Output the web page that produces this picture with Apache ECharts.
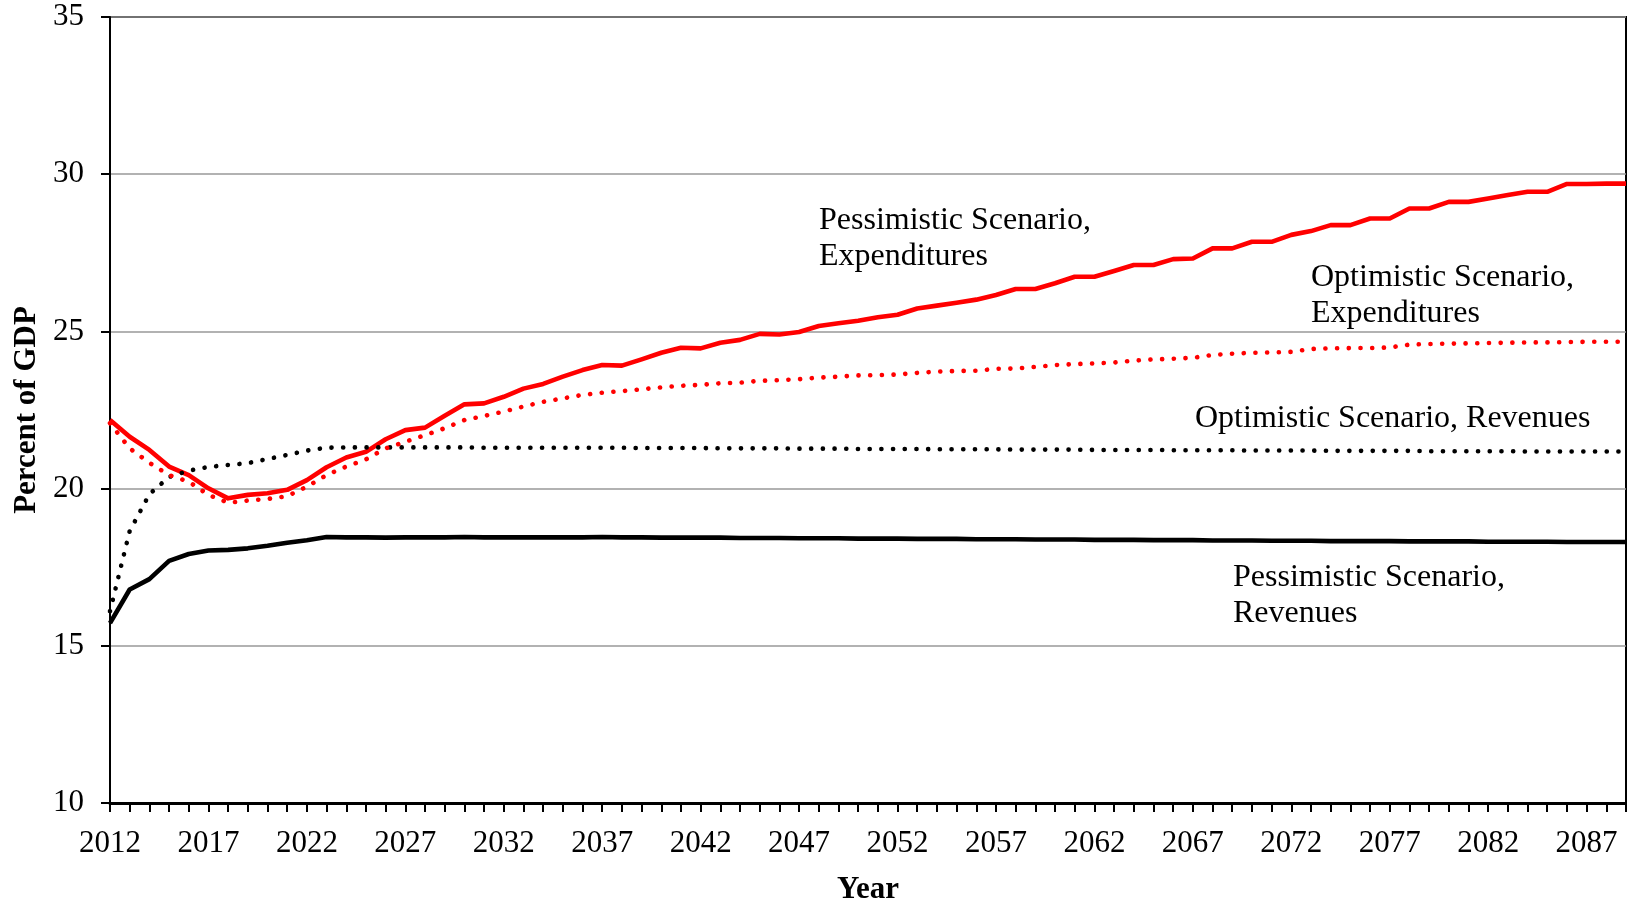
<!DOCTYPE html>
<html>
<head>
<meta charset="utf-8">
<title>Percent of GDP</title>
<script src="https://cdn.jsdelivr.net/npm/echarts@6/dist/echarts.min.js"></script>
<style>
  html, body { margin: 0; padding: 0; background: #fff; }
  #chart { width: 1627px; height: 903px; }
</style>
</head>
<body>
<div id="chart"></div>
<script>
// years on the category axis, 2012 .. 2089
var years = []
for (var y = 2012; y <= 2089; y++) years.push(String(y))

// Pessimistic Scenario, Expenditures (solid red)
var pessExp = [
  22.18, 21.65, 21.23, 20.70, 20.43, 20.01, 19.69, 19.80, 19.85, 19.96,
  20.27, 20.68, 20.99, 21.17, 21.57, 21.86, 21.94, 22.32, 22.68, 22.71,
  22.92, 23.18, 23.33, 23.56, 23.77, 23.93, 23.91, 24.11, 24.32, 24.48,
  24.46, 24.64, 24.73, 24.92, 24.90, 24.98, 25.17, 25.26, 25.34, 25.45,
  25.53, 25.73, 25.82, 25.91, 26.01, 26.16, 26.35, 26.35, 26.53, 26.74,
  26.74, 26.92, 27.11, 27.11, 27.30, 27.32, 27.64, 27.64, 27.85, 27.85,
  28.07, 28.19, 28.38, 28.38, 28.59, 28.59, 28.91, 28.91, 29.12, 29.12,
  29.23, 29.34, 29.44, 29.44, 29.69, 29.69, 29.70, 29.70
]

// Optimistic Scenario, Expenditures (dotted red)
var optExp = [
  22.08, 21.28, 20.82, 20.43, 20.22, 19.80, 19.55, 19.62, 19.67, 19.76,
  20.06, 20.43, 20.70, 20.93, 21.28, 21.49, 21.70, 21.92, 22.18, 22.31,
  22.45, 22.61, 22.76, 22.87, 22.98, 23.05, 23.10, 23.16, 23.22, 23.27,
  23.30, 23.35, 23.37, 23.43, 23.45, 23.48, 23.53, 23.56, 23.60, 23.61,
  23.63, 23.68, 23.72, 23.74, 23.75, 23.81, 23.82, 23.87, 23.93, 23.96,
  23.98, 24.01, 24.07, 24.11, 24.13, 24.16, 24.25, 24.29, 24.32, 24.33,
  24.35, 24.44, 24.46, 24.47, 24.47, 24.49, 24.58, 24.60, 24.61, 24.62,
  24.63, 24.64, 24.65, 24.65, 24.66, 24.67, 24.67, 24.67
]

// Optimistic Scenario, Revenues (dotted black)
var optRev = [
  16.10, 18.65, 19.82, 20.37, 20.57, 20.69, 20.75, 20.81, 20.94, 21.07,
  21.21, 21.30, 21.31, 21.31, 21.31, 21.31, 21.31, 21.31, 21.31, 21.30,
  21.30, 21.30, 21.30, 21.30, 21.30, 21.30, 21.30, 21.29, 21.29, 21.29,
  21.29, 21.28, 21.28, 21.28, 21.28, 21.27, 21.27, 21.27, 21.26, 21.26,
  21.26, 21.26, 21.25, 21.25, 21.25, 21.25, 21.24, 21.24, 21.24, 21.24,
  21.23, 21.23, 21.23, 21.23, 21.22, 21.22, 21.22, 21.22, 21.21, 21.21,
  21.21, 21.21, 21.20, 21.20, 21.20, 21.20, 21.20, 21.19, 21.19, 21.19,
  21.19, 21.19, 21.18, 21.18, 21.18, 21.18, 21.18, 21.18
]

// Pessimistic Scenario, Revenues (solid black)
var pessRev = [
  15.72, 16.79, 17.12, 17.70, 17.92, 18.03, 18.05, 18.10, 18.18, 18.28,
  18.36, 18.46, 18.45, 18.45, 18.44, 18.45, 18.45, 18.45, 18.46, 18.45,
  18.45, 18.45, 18.45, 18.45, 18.45, 18.46, 18.45, 18.45, 18.44, 18.44,
  18.44, 18.44, 18.43, 18.43, 18.43, 18.42, 18.42, 18.42, 18.41, 18.41,
  18.41, 18.40, 18.40, 18.40, 18.39, 18.39, 18.39, 18.38, 18.38, 18.38,
  18.37, 18.37, 18.37, 18.36, 18.36, 18.36, 18.35, 18.35, 18.35, 18.34,
  18.34, 18.34, 18.33, 18.33, 18.33, 18.33, 18.32, 18.32, 18.32, 18.32,
  18.31, 18.31, 18.31, 18.31, 18.30, 18.30, 18.30, 18.30
]

var yTicks = [10, 15, 20, 25, 30, 35]

var FONT = '"Liberation Serif", "DejaVu Serif", serif'

var chart = echarts.init(document.getElementById('chart'))

function lineSeries(name, data, color, dotted) {
  return {
    name: name,
    type: 'line',
    data: data,
    showSymbol: false,
    symbol: 'none',
    smooth: false,
    animation: false,
    lineStyle: {
      color: color,
      width: 4.6,
      type: dotted ? [0.1, 11.6] : 'solid',
      cap: dotted ? 'round' : 'butt',
      join: 'round'
    },
    z: dotted ? 3 : 2
  }
}

function note(text, left, top) {
  return {
    type: 'text',
    left: left,
    top: top,
    style: {
      text: text,
      font: '32px ' + FONT,
      fill: '#000',
      lineHeight: 36
    },
    z: 10
  }
}

chart.setOption({
  animation: false,
  backgroundColor: '#fff',
  grid: {
    left: 110,
    right: 1,
    top: 17,
    bottom: 100,
    show: true,
    borderColor: '#000',
    borderWidth: 2,
    containLabel: false,
    outerBoundsMode: 'none'
  },
  xAxis: {
    type: 'category',
    data: years,
    boundaryGap: false,
    name: 'Year',
    nameLocation: 'middle',
    nameGap: 71,
    nameTextStyle: { fontFamily: FONT, fontSize: 31, fontWeight: 'bold', color: '#000' },
    axisLine: { lineStyle: { color: '#000', width: 3 } },
    axisTick: { show: true, interval: 0, length: 9, lineStyle: { color: '#000', width: 2 } },
    axisLabel: { interval: 4, margin: 25, fontFamily: FONT, fontSize: 31, color: '#000' },
    splitLine: { show: false }
  },
  yAxis: {
    type: 'value',
    min: yTicks[0],
    max: yTicks[yTicks.length - 1],
    interval: 5,
    name: 'Percent of GDP',
    nameLocation: 'middle',
    nameGap: 67,
    nameTextStyle: { fontFamily: FONT, fontSize: 31, fontWeight: 'bold', color: '#000' },
    axisLine: { show: true, lineStyle: { color: '#000', width: 2 } },
    axisTick: { show: true, length: 9, lineStyle: { color: '#000', width: 2 } },
    axisLabel: { margin: 26, fontFamily: FONT, fontSize: 31, color: '#000' },
    splitLine: { show: true, lineStyle: { color: '#999', width: 1.5 } }
  },
  series: [
    lineSeries('Pessimistic Scenario, Revenues', pessRev, '#000', false),
    lineSeries('Optimistic Scenario, Revenues', optRev, '#000', true),
    lineSeries('Optimistic Scenario, Expenditures', optExp, '#ff0000', true),
    lineSeries('Pessimistic Scenario, Expenditures', pessExp, '#ff0000', false)
  ],
  graphic: [
    note('Pessimistic Scenario,\nExpenditures', 819, 203),
    note('Optimistic Scenario,\nExpenditures', 1311, 260),
    note('Optimistic Scenario, Revenues', 1195, 401),
    note('Pessimistic Scenario,\nRevenues', 1233, 560)
  ]
})
</script>
</body>
</html>
